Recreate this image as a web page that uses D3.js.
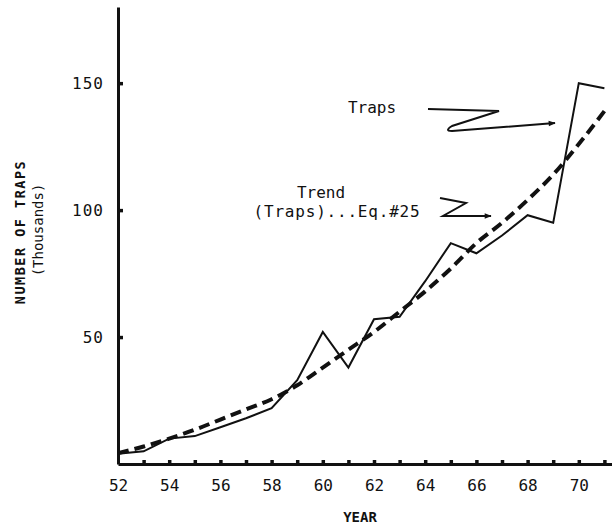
<!DOCTYPE html>
<html>
<head>
<meta charset="utf-8">
<script src="https://cdn.jsdelivr.net/npm/d3@7"></script>
<style>
  body { margin: 0; background: #fff; }
  text { font-family: "DejaVu Sans Mono", monospace; fill: #111; }
</style>
</head>
<body>
<script>
// values (thousands of traps)
const years = [52, 53, 54, 55, 56, 57, 58, 59, 60, 61, 62, 63, 64, 65, 66, 67, 68, 69, 70, 71];
const traps = [4, 5, 10, 11, 14.5, 18, 22, 33, 52, 38, 57, 58, 72, 87, 83, 90, 98, 95, 150, 148];
const trend = [4.3, 6.9, 10, 13.5, 17.5, 21.5, 25.5, 31, 38, 45, 52, 60, 68, 77, 87, 95, 104, 114, 126, 139];
const yTicks = [50, 100, 150];
const xLabelYears = [52, 54, 56, 58, 60, 62, 64, 66, 68, 70];

const width = 612, height = 529;

const svg = d3.select("body")
    .append("svg")
    .attr("width", width)
    .attr("height", height);

const x = d3.scaleLinear().domain([52, 72]).range([118, 630]);
const y = d3.scaleLinear().domain([0, 180]).range([464, 7]);

// x axis: dot ticks every year, labels on even years
const xAxis = svg.append("g")
    .attr("transform", "translate(0," + y(0) + ")")
    .call(d3.axisBottom(x)
        .tickValues(years)
        .tickSizeInner(-4)
        .tickSizeOuter(0)
        .tickPadding(16)
        .tickFormat(d => xLabelYears.includes(d) ? d : ""));
xAxis.select(".domain").attr("stroke", "#111").attr("stroke-width", 3);
xAxis.selectAll(".tick line").attr("stroke", "#111").attr("stroke-width", 3.5)
    .filter(d => d === 52).remove();
xAxis.selectAll(".tick text").attr("font-size", 16).attr("font-family", "DejaVu Sans Mono");

// y axis
const yAxis = svg.append("g")
    .attr("transform", "translate(" + x(52) + ",0)")
    .call(d3.axisLeft(y)
        .tickValues(yTicks)
        .tickSizeInner(-5)
        .tickSizeOuter(0)
        .tickPadding(14));
yAxis.select(".domain").attr("stroke", "#111").attr("stroke-width", 3);
yAxis.selectAll(".tick line").attr("stroke", "#111").attr("stroke-width", 3.5);
yAxis.selectAll(".tick text").attr("font-size", 16).attr("font-family", "DejaVu Sans Mono")
    .attr("letter-spacing", 1);

// axis titles
svg.append("text")
    .attr("transform", "translate(25,232) rotate(-90)")
    .attr("text-anchor", "middle")
    .attr("font-size", 13.5)
    .attr("font-weight", "bold")
    .attr("letter-spacing", 1.5)
    .text("NUMBER OF TRAPS");
svg.append("text")
    .attr("transform", "translate(43,230) rotate(-90)")
    .attr("text-anchor", "middle")
    .attr("font-size", 14)
    .attr("letter-spacing", 0)
    .text("(Thousands)");
svg.append("text")
    .attr("x", 360)
    .attr("y", 522)
    .attr("text-anchor", "middle")
    .attr("font-size", 14)
    .attr("font-weight", "bold")
    .text("YEAR");

// series
const data = years.map((yr, i) => ({ year: yr, traps: traps[i], trend: trend[i] }));

const trendLine = d3.line()
    .x(d => x(d.year))
    .y(d => y(d.trend))
    .curve(d3.curveMonotoneX);

svg.append("path")
    .datum(data)
    .attr("d", trendLine)
    .attr("fill", "none")
    .attr("stroke", "#111")
    .attr("stroke-width", 4)
    .attr("stroke-dasharray", "11,6");

const trapsLine = d3.line()
    .x(d => x(d.year))
    .y(d => y(d.traps));

svg.append("path")
    .datum(data)
    .attr("d", trapsLine)
    .attr("fill", "none")
    .attr("stroke", "#111")
    .attr("stroke-width", 2)
    .attr("stroke-linejoin", "miter");

// annotations
svg.append("defs").append("marker")
    .attr("id", "arrow")
    .attr("viewBox", "0 0 10 10")
    .attr("refX", 9).attr("refY", 5)
    .attr("markerWidth", 9).attr("markerHeight", 7)
    .attr("markerUnits", "userSpaceOnUse")
    .attr("orient", "auto")
    .append("path")
    .attr("d", "M0,1 L10,5 L0,9 Z")
    .attr("fill", "#111");

svg.append("text")
    .attr("x", 372).attr("y", 113)
    .attr("text-anchor", "middle")
    .attr("font-size", 16)
    .text("Traps");
svg.append("path")
    .attr("d", "M428,109 L499,111 L452,126 Q444,131 452,131 L555,123")
    .attr("fill", "none")
    .attr("stroke", "#111")
    .attr("stroke-width", 2)
    .attr("marker-end", "url(#arrow)");

svg.append("text")
    .attr("x", 321).attr("y", 198)
    .attr("text-anchor", "middle")
    .attr("font-size", 16)
    .text("Trend");
svg.append("text")
    .attr("x", 337).attr("y", 217)
    .attr("text-anchor", "middle")
    .attr("font-size", 16)
    .attr("letter-spacing", 0.8)
    .text("(Traps)...Eq.#25");
svg.append("path")
    .attr("d", "M440,198 L466,203 L443,216 L491,216")
    .attr("fill", "none")
    .attr("stroke", "#111")
    .attr("stroke-width", 2)
    .attr("marker-end", "url(#arrow)");
</script>
</body>
</html>
